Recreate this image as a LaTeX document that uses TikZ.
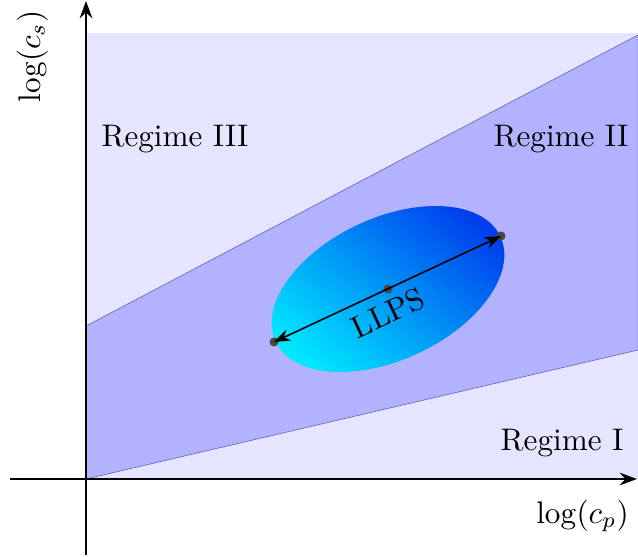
\documentclass[tikz,border=0pt]{standalone}
\usetikzlibrary{arrows.meta}
\definecolor{llpsdark}{RGB}{0,62,236}
\definecolor{llpslight}{RGB}{0,232,255}
\begin{document}
\begin{tikzpicture}[x=0.3205pt,y=0.3205pt,
  axisline/.style={line width=0.9pt,-{Stealth[length=5.5pt,width=4pt]}},
  regime/.style={anchor=base,inner sep=0pt},
  dotmark/.style={circle,fill=black!72,inner sep=0pt,minimum size=2.9pt}]
\useasboundingbox (0,0) rectangle (638,556);
% regions
\fill[blue!10] (86,77) rectangle (638,523);
\filldraw[fill=blue!30,draw=blue!40!gray,line width=0.15pt]
  (86,77) -- (638,206) -- (638,521) -- (86,230) -- cycle;
% LLPS ellipse
\begin{scope}[shift={(388,267)},rotate=25]
  \shade[bottom color=llpslight,top color=llpsdark,shading angle=-40]
    (0,0) ellipse [x radius=124,y radius=71];
\end{scope}
\node[dotmark] (l) at (274,214) {};
\node[dotmark] (m) at (388,267) {};
\node[dotmark] (r) at (501,320) {};
\draw[line width=0.5pt,{Stealth[length=5.2pt,width=3.8pt]}-{Stealth[length=5.2pt,width=3.8pt]}]
  (l.center) -- (r.center);
\node[rotate=25,inner sep=0pt] (llps) at (388,243) {LLPS};
% axes
\coordinate (xs) at (10,77);
\coordinate (xe) at (637,77);
\coordinate (ys) at (86,1);
\coordinate (ye) at (86,555);
\draw[axisline] (xs) -- (xe);
\draw[axisline] (ys) -- (ye);
% labels
\node[regime] (r3) at (175,409) {Regime III};
\node[regime] (r2) at (561,409) {Regime II};
\node[regime] (r1) at (562,106) {Regime I};
\node[regime] (xl) at (582.5,33) {$\log(c_p)$};
\node[regime,rotate=90] (yl) at (40,499.5) {$\log(c_s)$};
\end{tikzpicture}
\end{document}
